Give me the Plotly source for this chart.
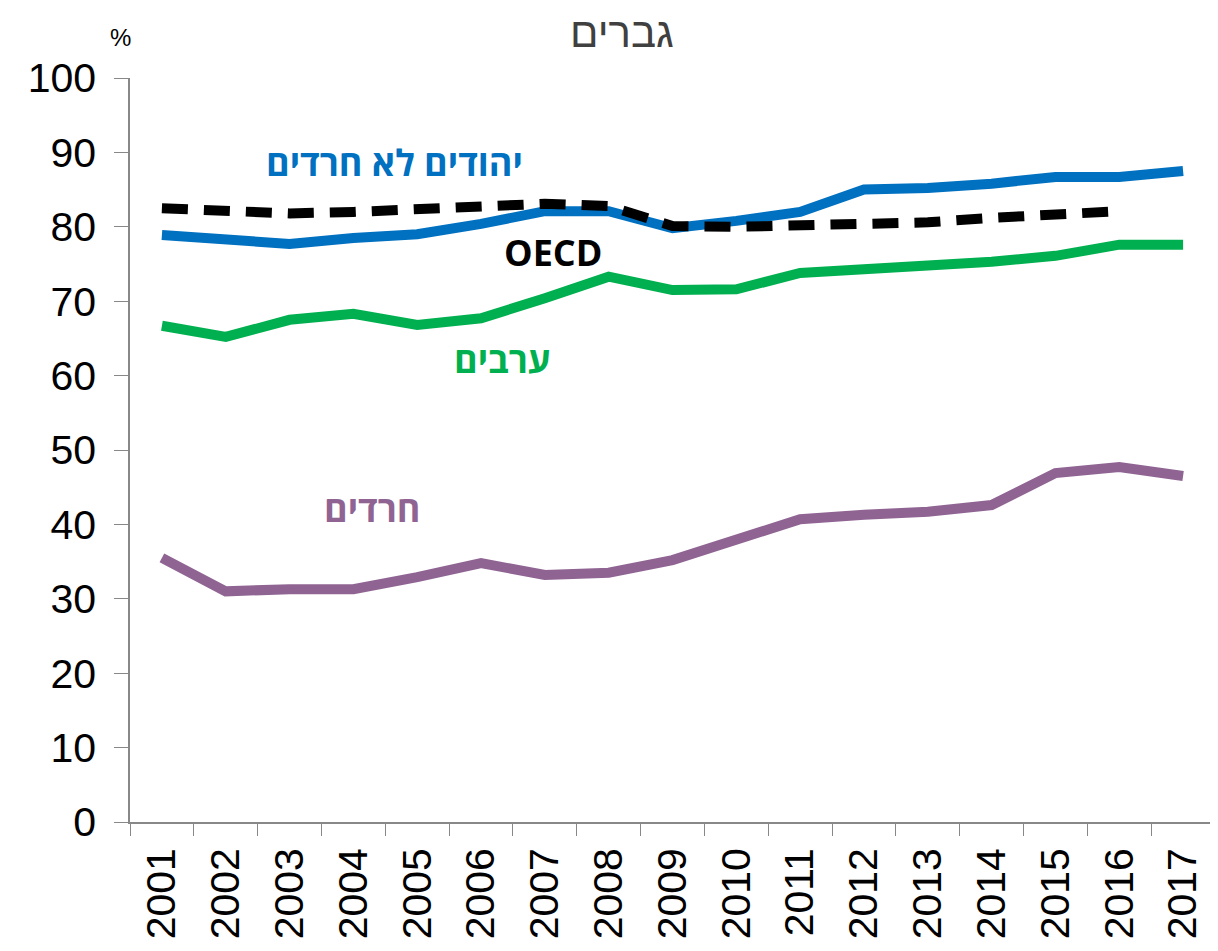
import plotly.graph_objects as go

years = [str(y) for y in range(2001, 2018)]

# employment rate, men (%)
non_haredi_jews = [78.9, 78.2, 77.7, 78.5, 79.0, 80.4, 82.1, 82.1, 79.8, 80.8, 82.0, 85.0, 85.2, 85.8, 86.7, 86.7, 87.5]
oecd = [82.5, 82.0, 81.8, 82.0, 82.3, 82.7, 83.1, 82.8, 80.1, 80.0, 80.2, 80.5, 80.6, 81.2, 81.7, 82.1, None]
arabs = [66.7, 65.2, 67.5, 68.3, 66.8, 67.7, 70.4, 73.3, 71.5, 71.6, 73.8, 74.2, 74.9, 75.3, 76.1, 77.6, 77.6]
haredim = [35.5, 31.0, 31.3, 31.3, 32.9, 34.8, 33.2, 33.5, 35.2, 38.0, 40.7, 41.3, 41.7, 42.6, 46.9, 47.7, 46.5]

y_ticks = list(range(0, 101, 10))

# series labels: text, colour, position (category index, value)
labels = [
    ("יהודים לא חרדים", "#0070C0", 3.65, 88.6),
    ("OECD", "#000000", 6.13, 76.6),
    ("ערבים", "#00B050", 5.34, 62.1),
    ("חרדים", "#8F6493", 3.29, 42.2),
]

fig = go.Figure()
fig.add_trace(go.Scatter(x=years, y=non_haredi_jews, mode="lines",
                         line=dict(color="#0070C0", width=10)))
fig.add_trace(go.Scatter(x=years, y=arabs, mode="lines",
                         line=dict(color="#00B050", width=10)))
fig.add_trace(go.Scatter(x=years, y=haredim, mode="lines",
                         line=dict(color="#8F6493", width=10)))
fig.add_trace(go.Scatter(x=years, y=oecd, mode="lines",
                         line=dict(color="#000000", width=10, dash="26px,16px")))

for text, color, xpos, ypos in labels:
    fig.add_annotation(x=xpos, y=ypos, xref="x", yref="y", text="<b>" + text + "</b>",
                       showarrow=False, xanchor="center", yanchor="middle",
                       font=dict(family="Open Sans, Arial, sans-serif", size=36, color=color))

fig.add_annotation(x=0.4535, y=1.0, xref="paper", yref="paper", yshift=70,
                   xanchor="center", yanchor="top", borderpad=0,
                   text="גברים", showarrow=False,
                   font=dict(family="Liberation Sans, Arial, sans-serif", size=42, color="#404040"))
fig.add_annotation(x=0, y=1.0, xref="paper", yref="paper", xshift=-10, yshift=41,
                   xanchor="center", yanchor="middle",
                   text="%", showarrow=False,
                   font=dict(family="Liberation Sans, Arial, sans-serif", size=24, color="#000000"))

fig.update_layout(
    width=1210, height=943,
    margin=dict(l=122, r=3, t=70, b=129),
    plot_bgcolor="white", paper_bgcolor="white",
    showlegend=False,
    font=dict(family="Liberation Sans, Arial, sans-serif", size=41, color="#000000"),
)
fig.update_xaxes(type="category", tickson="boundaries", ticks="outside", ticklen=12,
                 tickcolor="#888888", showline=True, linecolor="#888888", linewidth=1.5,
                 showgrid=False, tickangle=-90, range=[-0.5, 16.5], automargin=False,
                 ticklabelstandoff=8)
fig.update_yaxes(range=[0, 100], tickvals=y_ticks, ticks="outside", ticklen=14,
                 tickcolor="#888888", showline=True, linecolor="#888888", linewidth=1.5,
                 showgrid=False, zeroline=False, automargin=False, ticklabelstandoff=10)

fig.write_html("out.html")
